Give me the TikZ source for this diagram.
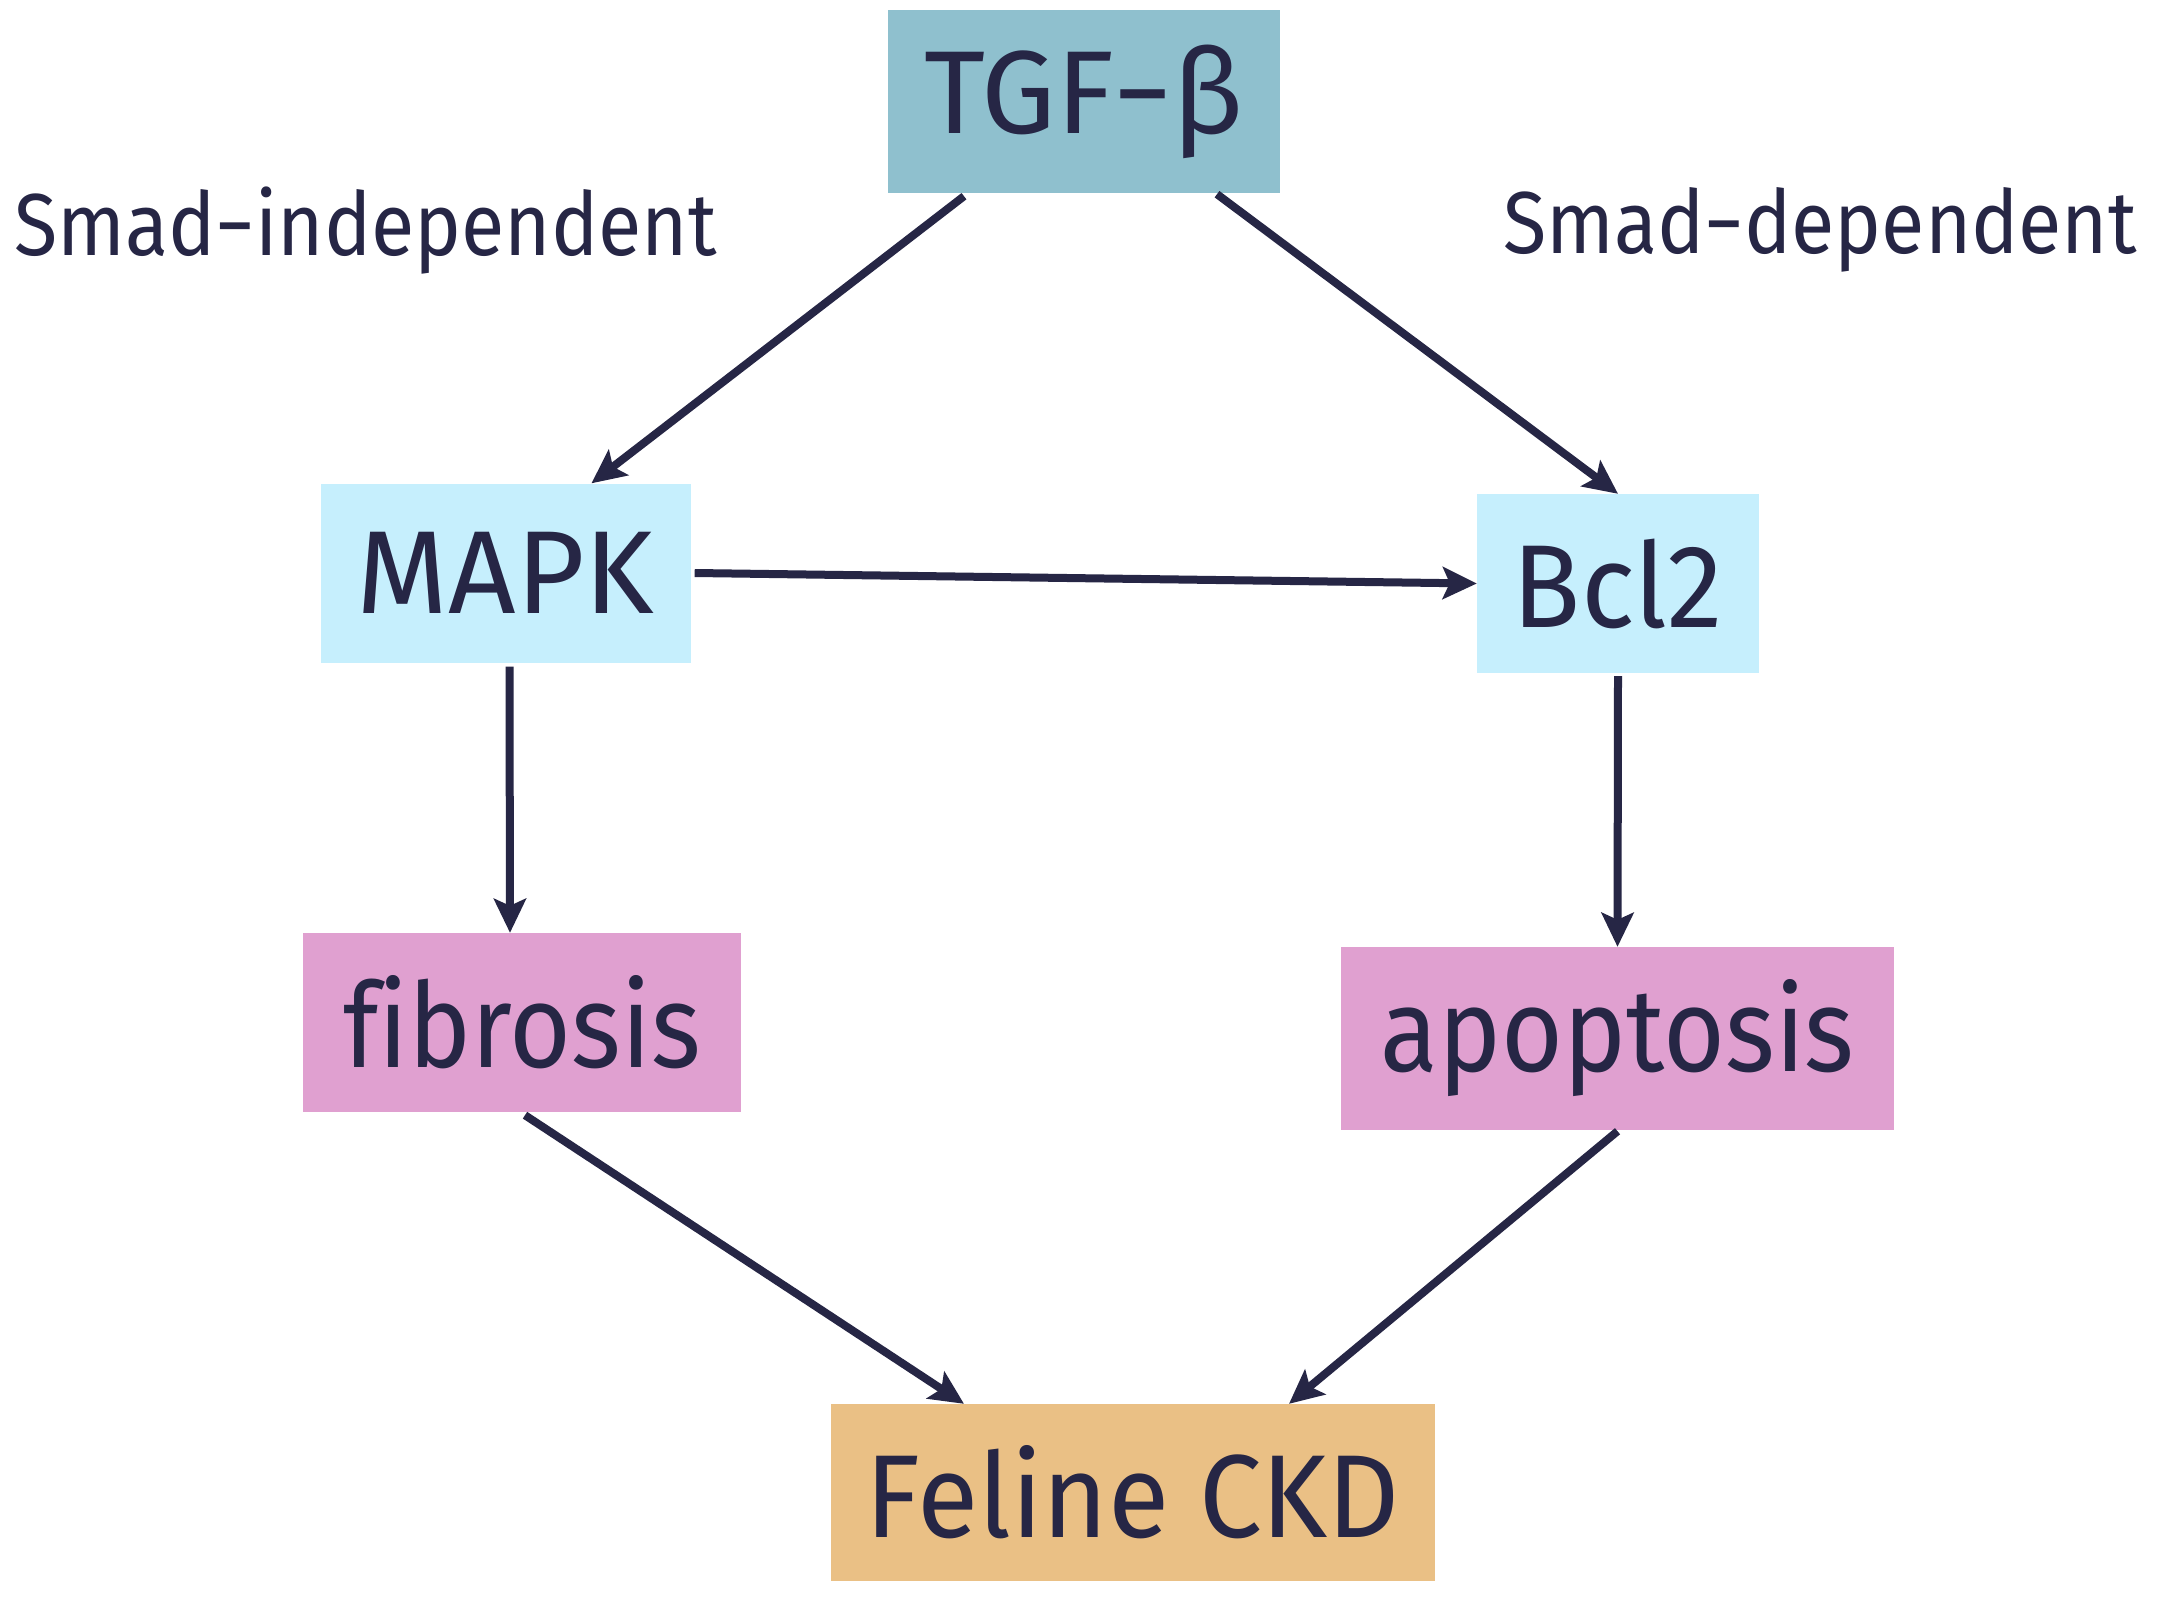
\documentclass[tikz,border=0pt]{standalone}
\usepackage{fontspec}
\setmainfont{Fira Sans}
\newfontfamily\fsnarrow{Fira Sans}[FakeStretch=0.9]
\newfontfamily\fsmid{Fira Sans}[FakeStretch=0.95]
\usetikzlibrary{arrows.meta}
\definecolor{ink}{HTML}{262645}
\definecolor{tgfc}{HTML}{8FC0CE}
\definecolor{bluec}{HTML}{C6EFFD}
\definecolor{pinkc}{HTML}{E0A0D0}
\definecolor{orangec}{HTML}{EAC085}
\tikzset{
  box/.style={inner sep=0pt, text=ink, font=\fontsize{118}{130}\selectfont, anchor=center},
  lbl/.style={inner sep=0pt, text=ink, font=\fsnarrow\fontsize{88}{100}\selectfont, anchor=base west},
  arr/.style={draw=ink, line width=8pt, -{Stealth[length=34pt,width=32pt,inset=7pt]}},
}
\begin{document}
\begin{tikzpicture}[x=1pt,y=-1pt]
\useasboundingbox[fill=white] (0,0) rectangle (2168,1608);
\node[box, fill=tgfc, minimum width=392pt, minimum height=183pt] (tgf) at (1084,101.5) {TGF−β};
\node[box, fill=bluec, minimum width=370pt, minimum height=179pt] (mapk) at (505.5,573) {MAPK};
\node[box, fill=bluec, minimum width=282pt, minimum height=179pt, font=\fsmid\fontsize{118}{130}\selectfont] (bcl) at (1618,583.5) {Bcl2};
\node[box, fill=pinkc, minimum width=438pt, minimum height=179pt, font=\fsnarrow\fontsize{118}{130}\selectfont] (fib) at (522,1022.5) {f\kern0pt ibrosis};
\node[box, fill=pinkc, minimum width=553pt, minimum height=183pt, font=\fsnarrow\fontsize{118}{130}\selectfont] (apo) at (1617.5,1038.5) {apoptosis};
\node[box, fill=orangec, minimum width=604pt, minimum height=177pt, font=\fsmid\fontsize{118}{130}\selectfont] (ckd) at (1133,1492.5) {Feline CKD};
\node[lbl] (sind) at (14,255) {Smad−independent};
\node[lbl] (sdep) at (1503,253) {Smad−dependent};
\draw[arr] ([xshift=-120pt,yshift=-3pt]tgf.south) -- ([xshift=86pt]mapk.north);
\draw[arr] ([xshift=133pt,yshift=-1pt]tgf.south) -- (bcl.north);
\draw[arr] ([xshift=4pt]mapk.east) -- (bcl.west);
\draw[arr] ([xshift=4pt,yshift=-4pt]mapk.south) -- ([xshift=-12pt]fib.north);
\draw[arr] ([yshift=-3pt]bcl.south) -- (apo.north);
\draw[arr] ([xshift=3pt,yshift=-3pt]fib.south) -- ([xshift=-169pt]ckd.north);
\draw[arr] ([yshift=-1pt]apo.south) -- ([xshift=156pt]ckd.north);
\end{tikzpicture}
\end{document}
